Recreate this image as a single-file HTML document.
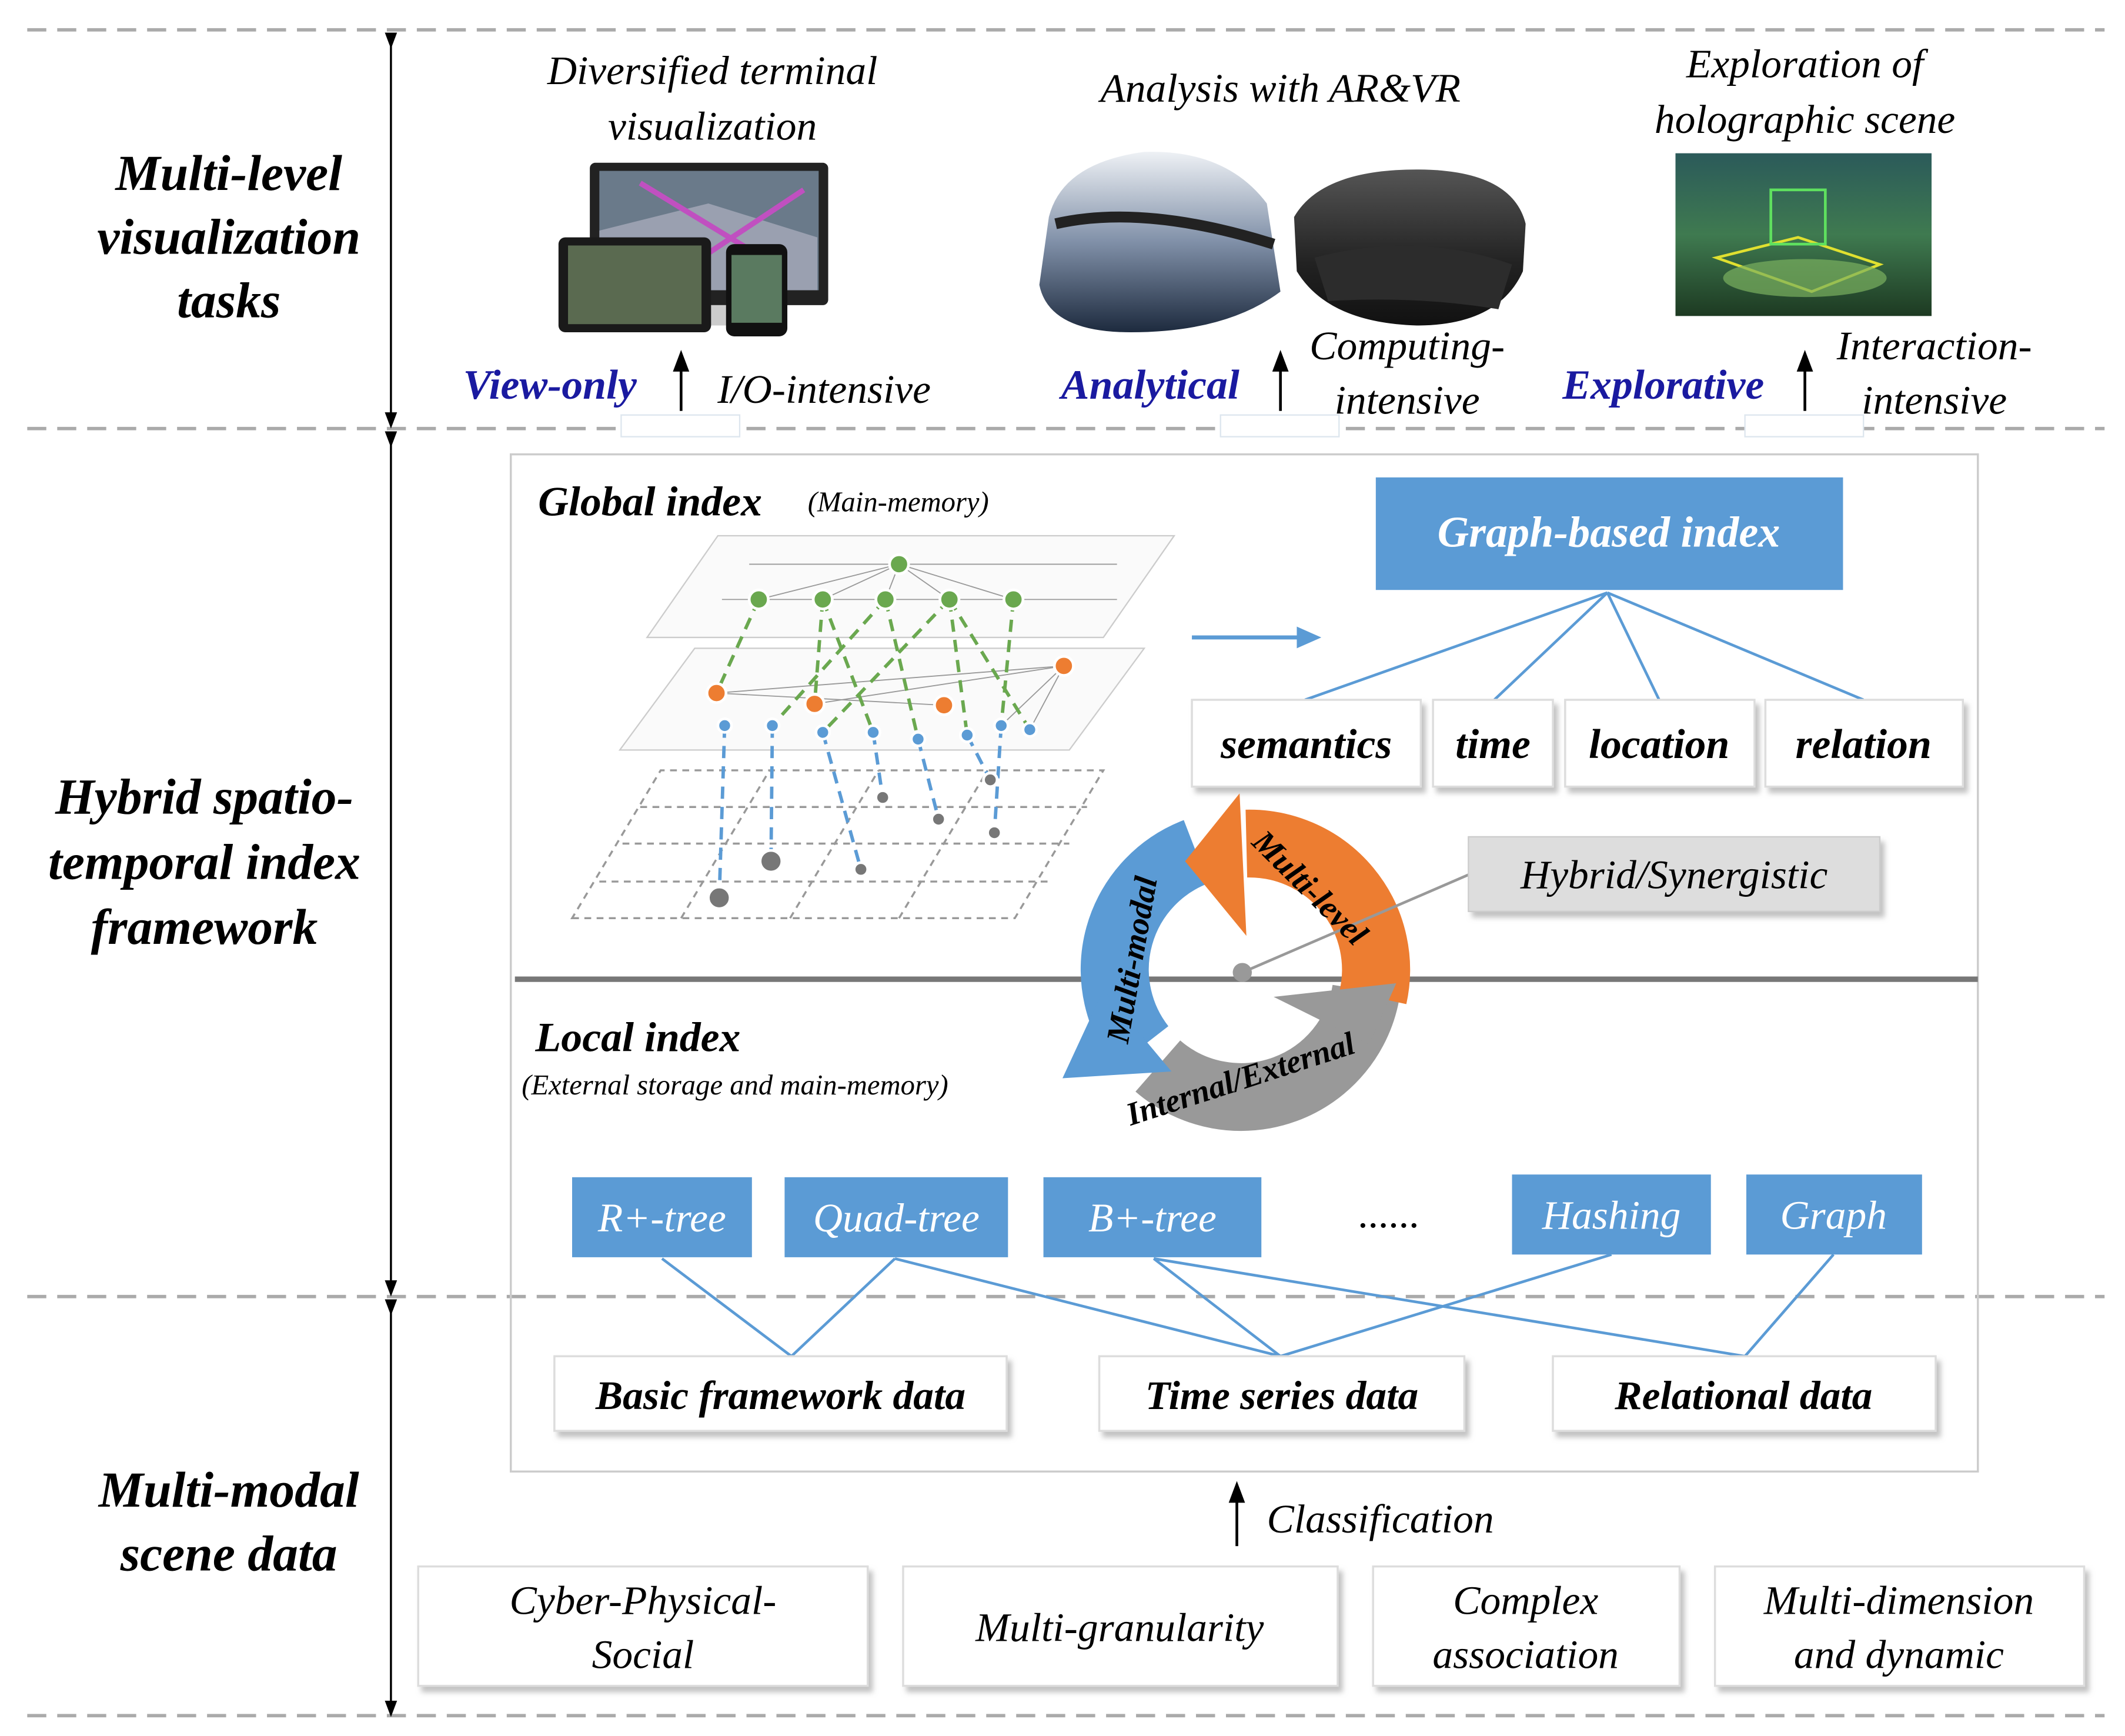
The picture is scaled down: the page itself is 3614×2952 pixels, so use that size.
<!DOCTYPE html>
<html><head><meta charset="utf-8"><style>
html,body{margin:0;padding:0;background:#fff;}
svg{display:block;}
text{font-family:"Liberation Serif",serif;font-style:italic;}
.b{font-weight:bold;}
</style></head><body>
<svg width="3614" height="2952" viewBox="0 0 1560 1280" preserveAspectRatio="none" xmlns="http://www.w3.org/2000/svg">
<defs>
<marker id="ah" markerWidth="8" markerHeight="8" refX="4" refY="4" orient="auto"><path d="M0,1 L8,4 L0,7 z" fill="#000"/></marker>
<filter id="sh" x="-5%" y="-5%" width="115%" height="130%"><feDropShadow dx="3" dy="4" stdDeviation="2" flood-color="#999" flood-opacity="0.6"/></filter>
<linearGradient id="vr" x1="0" y1="0" x2="0" y2="1"><stop offset="0" stop-color="#eef1f5"/><stop offset="0.5" stop-color="#8090a8"/><stop offset="1" stop-color="#1d2a3e"/></linearGradient>
<linearGradient id="holo" x1="0" y1="0" x2="0" y2="1"><stop offset="0" stop-color="#555"/><stop offset="0.6" stop-color="#222"/><stop offset="1" stop-color="#111"/></linearGradient>
<linearGradient id="scene" x1="0" y1="0" x2="0" y2="1"><stop offset="0" stop-color="#2b5a5a"/><stop offset="0.5" stop-color="#3f7a50"/><stop offset="1" stop-color="#1d3a22"/></linearGradient>
</defs>

<!-- dashed separators -->
<g stroke="#aaa" stroke-width="2.5" stroke-dasharray="14,8">
<line x1="20" y1="22" x2="1545" y2="22"/>
<line x1="20" y1="316" x2="1545" y2="316"/>
<line x1="20" y1="956" x2="1545" y2="956"/>
<line x1="20" y1="1265" x2="1545" y2="1265"/>
</g>
<!-- vertical arrows -->
<g stroke="#000" stroke-width="1.5">
<line x1="287" y1="30" x2="287" y2="310" marker-start="url(#ah)" marker-end="url(#ah)"/>
<line x1="287" y1="324" x2="287" y2="950" marker-start="url(#ah)" marker-end="url(#ah)"/>
<line x1="287" y1="964" x2="287" y2="1260" marker-start="url(#ah)" marker-end="url(#ah)"/>
</g>

<!-- left labels -->
<g class="b" font-size="37" text-anchor="middle" font-weight="bold">
<text x="168" y="140" font-weight="bold">Multi-level</text>
<text x="168" y="187" font-weight="bold">visualization</text>
<text x="168" y="234" font-weight="bold">tasks</text>
<text x="150" y="600" font-weight="bold">Hybrid spatio-</text>
<text x="150" y="648" font-weight="bold">temporal index</text>
<text x="150" y="696" font-weight="bold">framework</text>
<text x="168" y="1111" font-weight="bold">Multi-modal</text>
<text x="168" y="1158" font-weight="bold">scene data</text>
</g>

<!-- top titles -->
<g font-size="30" text-anchor="middle">
<text x="523" y="62">Diversified terminal</text>
<text x="523" y="103">visualization</text>
<text x="940" y="75">Analysis with AR&amp;VR</text>
<text x="1325" y="57">Exploration of</text>
<text x="1325" y="98">holographic scene</text>
<text x="1033" y="265">Computing-</text>
<text x="1033" y="305">intensive</text>
<text x="1420" y="265">Interaction-</text>
<text x="1420" y="305">intensive</text>
<text x="605" y="297">I/O-intensive</text>
</g>
<g font-size="31" fill="#1a1aa0" font-weight="bold">
<text x="340" y="294">View-only</text>
<text x="779" y="294">Analytical</text>
<text x="1147" y="294">Explorative</text>
</g>
<g stroke="#000" stroke-width="2">
<line x1="500" y1="303" x2="500" y2="266" marker-end="url(#ah)"/>
<line x1="940" y1="303" x2="940" y2="266" marker-end="url(#ah)"/>
<line x1="1325" y1="303" x2="1325" y2="266" marker-end="url(#ah)"/>
</g>
<g fill="#fff" stroke="#dde6ee" stroke-width="1">
<rect x="456" y="306" width="87" height="16"/>
<rect x="896" y="306" width="87" height="16"/>
<rect x="1281" y="306" width="87" height="16"/>
</g>

<!-- device images -->
<rect x="433" y="120" width="175" height="105" rx="4" fill="#222"/>
<rect x="440" y="126" width="161" height="88" fill="#6a7a8a"/>
<path d="M440,170 L520,150 L600,175 L600,214 L440,214z" fill="#9aa0b0"/>
<path d="M470,135 L560,190 M500,200 L590,140" stroke="#c050c0" stroke-width="4"/>
<rect x="505" y="225" width="40" height="15" fill="#ccc"/>
<rect x="410" y="175" width="112" height="70" rx="5" fill="#1a1a1a"/>
<rect x="417" y="181" width="98" height="58" fill="#5a6a50"/>
<rect x="533" y="180" width="45" height="68" rx="6" fill="#111"/>
<rect x="537" y="188" width="37" height="50" fill="#5a7a60"/>
<!-- VR -->
<path d="M770,160 Q780,120 840,112 Q900,110 930,150 L940,215 Q900,245 830,245 Q770,245 763,210z" fill="url(#vr)"/>
<path d="M775,165 Q840,150 935,180" stroke="#222" stroke-width="8" fill="none"/>
<!-- hololens -->
<path d="M950,160 Q970,125 1040,125 Q1110,125 1120,165 L1118,200 Q1100,240 1040,240 Q975,238 952,200z" fill="url(#holo)"/>
<path d="M965,190 Q1040,170 1110,195 L1100,228 Q1040,218 975,222z" fill="#2c2c2c"/>
<!-- holographic scene -->
<rect x="1230" y="113" width="188" height="120" fill="url(#scene)"/>
<path d="M1260,190 L1320,175 L1380,195 L1330,215z" fill="none" stroke="#e0e030" stroke-width="2"/>
<rect x="1300" y="140" width="40" height="40" fill="none" stroke="#5fe05f" stroke-width="2"/>
<ellipse cx="1325" cy="205" rx="60" ry="14" fill="#7ab060" opacity="0.7"/>

<!-- middle frame -->
<rect x="375" y="335" width="1077" height="750" fill="none" stroke="#ccc" stroke-width="1.5"/>
<line x1="378" y1="722" x2="1452" y2="722" stroke="#777" stroke-width="4"/>

<text x="395" y="380" font-size="31" font-weight="bold">Global index</text>
<text x="593" y="377" font-size="21">(Main-memory)</text>

<!-- network planes -->
<g stroke="#ccc" stroke-width="1" fill="#fafafa">
<polygon points="475,470 810,470 862,395 527,395"/>
<polygon points="455,553 785,553 840,478 510,478"/>
</g>
<g stroke="#999" stroke-width="1.5" stroke-dasharray="5,4" fill="none">
<polygon points="420,677 745,677 810,568 485,568"/>
<line x1="440" y1="650" x2="770" y2="650"/><line x1="457" y1="622" x2="785" y2="622"/><line x1="470" y1="595" x2="798" y2="595"/>
<line x1="500" y1="677" x2="565" y2="568"/><line x1="580" y1="677" x2="645" y2="568"/><line x1="660" y1="677" x2="725" y2="568"/>
</g>
<g stroke="#999" stroke-width="0.8">
<line x1="550" y1="416" x2="820" y2="416"/><line x1="530" y1="442" x2="820" y2="442"/>
<line x1="660" y1="416" x2="557" y2="442"/><line x1="660" y1="416" x2="604" y2="442"/><line x1="660" y1="416" x2="650" y2="442"/><line x1="660" y1="416" x2="697" y2="442"/><line x1="660" y1="416" x2="744" y2="442"/>
<line x1="526" y1="511" x2="781" y2="491"/><line x1="526" y1="511" x2="693" y2="520"/><line x1="598" y1="519" x2="781" y2="491"/>
<line x1="781" y1="491" x2="735" y2="535"/><line x1="781" y1="491" x2="756" y2="538"/>
</g>
<g stroke="#6aa84f" stroke-width="2.5" stroke-dasharray="9,6">
<line x1="557" y1="442" x2="526" y2="511"/><line x1="604" y1="442" x2="598" y2="519"/><line x1="604" y1="442" x2="641" y2="540"/>
<line x1="650" y1="442" x2="567" y2="535"/><line x1="650" y1="442" x2="674" y2="545"/><line x1="697" y1="442" x2="604" y2="540"/>
<line x1="697" y1="442" x2="710" y2="542"/><line x1="744" y1="442" x2="735" y2="535"/><line x1="697" y1="442" x2="756" y2="538"/>
</g>
<g stroke="#5b9bd5" stroke-width="2.5" stroke-dasharray="9,6">
<line x1="532" y1="535" x2="528" y2="662"/><line x1="567" y1="535" x2="566" y2="635"/><line x1="604" y1="540" x2="632" y2="641"/>
<line x1="641" y1="540" x2="648" y2="588"/><line x1="674" y1="545" x2="689" y2="604"/><line x1="710" y1="542" x2="727" y2="575"/><line x1="735" y1="535" x2="730" y2="614"/>
</g>
<g stroke="#fff" stroke-width="2">
<g fill="#6aa84f"><circle cx="660" cy="416" r="7"/><circle cx="557" cy="442" r="7"/><circle cx="604" cy="442" r="7"/><circle cx="650" cy="442" r="7"/><circle cx="697" cy="442" r="7"/><circle cx="744" cy="442" r="7"/></g>
<g fill="#ed7d31"><circle cx="526" cy="511" r="7"/><circle cx="598" cy="519" r="7"/><circle cx="693" cy="520" r="7"/><circle cx="781" cy="491" r="7"/></g>
<g fill="#5b9bd5"><circle cx="532" cy="535" r="5"/><circle cx="567" cy="535" r="5"/><circle cx="604" cy="540" r="5"/><circle cx="641" cy="540" r="5"/><circle cx="674" cy="545" r="5"/><circle cx="710" cy="542" r="5"/><circle cx="735" cy="535" r="5"/><circle cx="756" cy="538" r="5"/></g>
<g fill="#777"><circle cx="528" cy="662" r="8"/><circle cx="566" cy="635" r="8"/><circle cx="632" cy="641" r="5"/><circle cx="648" cy="588" r="5"/><circle cx="689" cy="604" r="5"/><circle cx="727" cy="575" r="5"/><circle cx="730" cy="614" r="5"/></g>
</g>

<!-- blue arrow -->
<line x1="875" y1="470" x2="955" y2="470" stroke="#5b9bd5" stroke-width="3"/>
<polygon points="952,462 970,470 952,478" fill="#5b9bd5"/>

<!-- graph-based index -->
<rect x="1010" y="352" width="343" height="83" fill="#5b9bd5"/>
<text x="1181" y="403" font-size="32" font-weight="bold" fill="#fff" text-anchor="middle">Graph-based index</text>
<g stroke="#5b9bd5" stroke-width="2">
<line x1="1180" y1="437" x2="958" y2="516"/><line x1="1180" y1="437" x2="1097" y2="516"/><line x1="1180" y1="437" x2="1218" y2="516"/><line x1="1180" y1="437" x2="1368" y2="516"/>
</g>
<g fill="#fff" stroke="#ddd" stroke-width="1.5" filter="url(#sh)">
<rect x="875" y="516" width="168" height="64"/><rect x="1052" y="516" width="88" height="64"/><rect x="1149" y="516" width="139" height="64"/><rect x="1296" y="516" width="145" height="64"/>
</g>
<g font-size="31" font-weight="bold" text-anchor="middle">
<text x="959" y="559">semantics</text><text x="1096" y="559">time</text><text x="1218" y="559">location</text><text x="1368" y="559">relation</text>
</g>

<!-- cycle -->
<g fill="none" stroke-width="50">
<path d="M878,628 A93,93 0 0 0 838,772" stroke="#5b9bd5"/>
<path d="M1003,730 A93,93 0 0 1 850,786" stroke="#999"/>
<path d="M1008,735 A93,93 0 0 0 915,622" stroke="#ed7d31"/>
</g>
<polygon points="780,795 810,730 860,790" fill="#5b9bd5"/>
<polygon points="870,635 910,585 915,690" fill="#ed7d31"/>
<polygon points="935,735 1025,725 1005,770" fill="#999"/>
<line x1="1078" y1="645" x2="912" y2="717" stroke="#999" stroke-width="2"/>
<circle cx="912" cy="717" r="7" fill="#999"/>
<text transform="translate(828,770) rotate(-80)" font-size="24" font-weight="bold">Multi-modal</text>
<text transform="translate(918,622) rotate(45)" font-size="24" font-weight="bold">Multi-level</text>
<text transform="translate(830,830) rotate(-18)" font-size="24" font-weight="bold">Internal/External</text>

<rect x="1078" y="617" width="302" height="55" fill="#ddd" stroke="#ccc" filter="url(#sh)"/>
<text x="1229" y="655" font-size="30" text-anchor="middle">Hybrid/Synergistic</text>

<text x="393" y="775" font-size="31" font-weight="bold">Local index</text>
<text x="383" y="807" font-size="21">(External storage and main-memory)</text>

<g fill="#5b9bd5">
<rect x="420" y="868" width="132" height="59"/><rect x="576" y="868" width="164" height="59"/><rect x="766" y="868" width="160" height="59"/>
<rect x="1110" y="866" width="146" height="59"/><rect x="1282" y="866" width="129" height="59"/>
</g>
<g font-size="30" fill="#fff" text-anchor="middle">
<text x="486" y="908">R+-tree</text><text x="658" y="908">Quad-tree</text><text x="846" y="908">B+-tree</text>
<text x="1183" y="906">Hashing</text><text x="1346" y="906">Graph</text>
</g>
<text x="1020" y="905" font-size="30" text-anchor="middle">......</text>
<g stroke="#5b9bd5" stroke-width="2">
<line x1="486" y1="928" x2="581" y2="1000"/><line x1="657" y1="928" x2="581" y2="1000"/><line x1="657" y1="928" x2="940" y2="1000"/>
<line x1="847" y1="928" x2="940" y2="1000"/><line x1="847" y1="928" x2="1281" y2="1000"/><line x1="1183" y1="925" x2="940" y2="1000"/><line x1="1346" y1="925" x2="1281" y2="1000"/>
</g>
<g fill="#fff" stroke="#ddd" stroke-width="1.5" filter="url(#sh)">
<rect x="407" y="1000" width="332" height="55"/><rect x="807" y="1000" width="268" height="55"/><rect x="1140" y="1000" width="281" height="55"/>
</g>
<g font-size="30" font-weight="bold" text-anchor="middle">
<text x="573" y="1039">Basic framework data</text><text x="941" y="1039">Time series data</text><text x="1280" y="1039">Relational data</text>
</g>

<line x1="908" y1="1140" x2="908" y2="1100" stroke="#000" stroke-width="2" marker-end="url(#ah)"/>
<text x="930" y="1130" font-size="30">Classification</text>

<g fill="#fff" stroke="#ddd" stroke-width="1.5" filter="url(#sh)">
<rect x="307" y="1155" width="330" height="88"/><rect x="663" y="1155" width="319" height="88"/><rect x="1008" y="1155" width="225" height="88"/><rect x="1259" y="1155" width="271" height="88"/>
</g>
<g font-size="30" text-anchor="middle">
<text x="472" y="1190">Cyber-Physical-</text><text x="472" y="1230">Social</text>
<text x="822" y="1210">Multi-granularity</text>
<text x="1120" y="1190">Complex</text><text x="1120" y="1230">association</text>
<text x="1394" y="1190">Multi-dimension</text><text x="1394" y="1230">and dynamic</text>
</g>
</svg>
</body></html>
